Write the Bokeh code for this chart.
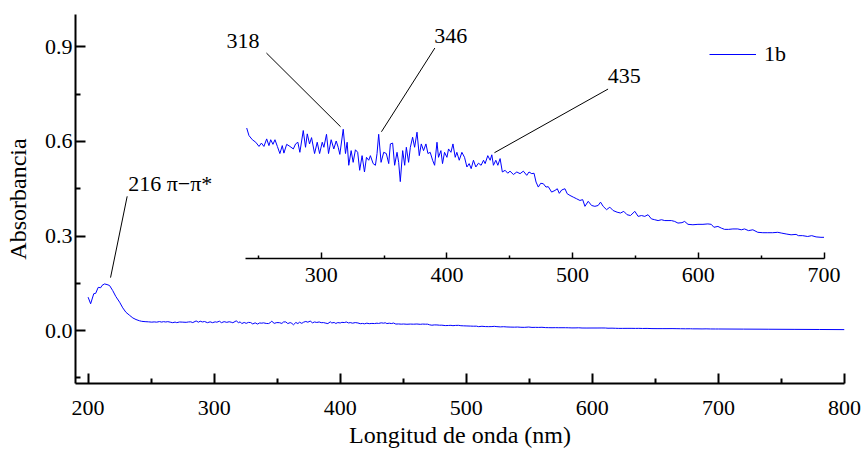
from bokeh.plotting import figure
from bokeh.models import (Range1d, LinearAxis, FixedTicker, PrintfTickFormatter,
                          Label, Legend, LegendItem)
from bokeh.embed import file_html
from bokeh.resources import INLINE

FONT = "Times New Roman"

# ---- data ----
wavelength_nm = [
    200, 202, 204.5, 206, 208, 210, 211, 213, 215, 217, 219.5, 222, 225, 227.5, 230, 233, 235.5, 238,
    240.7, 242.5, 245.2, 247.9, 250.5, 252.4, 254.4, 256.6, 258.4, 259.8, 261.6, 263.2, 265.1, 267.1,
    269.0, 270.3, 272.5, 275.1, 277.8, 279.6, 281.4, 283.0, 285.7, 287.5, 288.9, 290.7, 292.3, 294.7,
    296.8, 298.7, 300.8, 302.1, 304.2, 305.8, 307.9, 310.0, 311.9, 313.5, 314.8, 317.5, 319.3, 320.6,
    321.9, 323.8, 325.4, 327.2, 329.0, 330.6, 332.5, 334.4, 336.0, 337.8, 339.1, 341.3, 343.1, 344.4,
    345.7, 347.6, 349.7, 351.8, 353.7, 355.0, 356.8, 358.4, 360.3, 361.6, 362.9, 364.8, 366.4, 367.7,
    369.5, 370.9, 372.7, 374.3, 376.2, 378.0, 379.6, 381.4, 383.3, 384.9, 386.7, 388.6, 390.2, 392.1,
    393.3, 395.2, 396.5, 398.1, 400.0, 401.3, 403.2, 404.8, 406.6, 407.9, 409.8, 411.9, 414.0, 415.9,
    417.7, 419.3, 421.1, 423.0, 425.1, 427.2, 429.1, 430.4, 432.5, 434.4, 435.7, 437.0, 438.9, 440.5,
    442.3, 444.1, 446.3, 448.4, 450.2, 452.9, 455.6, 458.2, 460.8, 463.5, 465.3, 467.5, 469.3, 470.9,
    472.7, 474.6, 476.7, 478.8, 480.6, 483.3, 486.0, 487.8, 489.4, 491.3, 493.9, 495.7, 497.9, 500.5,
    503.2, 505.8, 508.0, 509.8, 512.4, 515.1, 517.7, 520.3, 522.2, 524.3, 527.0, 529.6, 532.2, 535.4,
    538.1, 540.7, 543.3, 546.0, 549.5, 552.1, 554.8, 557.4, 560.0, 562.7, 565.3, 568.0, 570.7, 573.3,
    575.9, 578.6, 581.2, 583.8, 587.0, 589.1, 591.8, 595.7, 599.7, 603.7, 607.6, 610.3, 612.4, 615.6,
    618.3, 620.9, 624.1, 627.5, 631.4, 634.2, 636.8, 639.9, 643.4, 647.3, 651.3, 655.3, 659.2, 663.2,
    666.4, 669.9, 673.8, 677.8, 679.6, 683.0, 687.0, 690.2, 693.7, 697.6, 700.0,
    720, 740, 760, 780, 800,
]
absorbance = [
    0.106, 0.085, 0.117, 0.118, 0.137, 0.136, 0.143, 0.148, 0.146, 0.143, 0.127, 0.108, 0.090, 0.072,
    0.058, 0.048, 0.040, 0.035,
    0.0311, 0.0293, 0.0283, 0.0277, 0.0267, 0.0275, 0.0267, 0.0285, 0.0269, 0.0283, 0.0272, 0.0283,
    0.0267, 0.0250, 0.0269, 0.0251, 0.0272, 0.0267, 0.0261, 0.0273, 0.0277, 0.0253, 0.0305, 0.0265,
    0.0297, 0.0273, 0.0288, 0.0250, 0.0277, 0.0250, 0.0277, 0.0265, 0.0296, 0.0250, 0.0283, 0.0261,
    0.0280, 0.0265, 0.0248, 0.0308, 0.0250, 0.0277, 0.0222, 0.0257, 0.0229, 0.0259, 0.0253, 0.0210,
    0.0245, 0.0206, 0.0241, 0.0234, 0.0245, 0.0226, 0.0222, 0.0250, 0.0296, 0.0229, 0.0253, 0.0250,
    0.0226, 0.0273, 0.0275, 0.0222, 0.0253, 0.0229, 0.0183, 0.0257, 0.0222, 0.0265, 0.0229, 0.0265,
    0.0289, 0.0265, 0.0301, 0.0245, 0.0273, 0.0257, 0.0273, 0.0250, 0.0253, 0.0234, 0.0222, 0.0277,
    0.0241, 0.0257, 0.0226, 0.0253, 0.0241, 0.0261, 0.0253, 0.0273, 0.0241, 0.0253, 0.0234, 0.0253,
    0.0241, 0.0218, 0.0226, 0.0214, 0.0234, 0.0218, 0.0227, 0.0222, 0.0234, 0.0226, 0.0245, 0.0234,
    0.0247, 0.0222, 0.0234, 0.0222, 0.0238, 0.0206, 0.0210, 0.0203, 0.0208, 0.0200, 0.0206, 0.0202,
    0.0208, 0.0198, 0.0206, 0.0202, 0.0203, 0.0182, 0.0170, 0.0179, 0.0178, 0.0170, 0.0171, 0.0158,
    0.0162, 0.0166, 0.0155, 0.0163, 0.0166, 0.0154, 0.0150, 0.0146, 0.0142, 0.0138, 0.0140, 0.0124,
    0.0136, 0.0126, 0.0124, 0.0126, 0.0134, 0.0124, 0.0116, 0.0122, 0.0114, 0.0110, 0.0108, 0.0112,
    0.0104, 0.0102, 0.0112, 0.0100, 0.0102, 0.0100, 0.0104, 0.0094, 0.0092, 0.0090, 0.0092, 0.0090,
    0.0090, 0.0090, 0.0088, 0.0084, 0.0085, 0.0088, 0.0081, 0.0080, 0.0081, 0.0081, 0.0082, 0.0081,
    0.0074, 0.0076, 0.0072, 0.0069, 0.0069, 0.0070, 0.0070, 0.0068, 0.0070, 0.0066, 0.0068, 0.0062,
    0.0061, 0.0061, 0.0061, 0.0062, 0.0060, 0.0058, 0.0056, 0.0057, 0.0054, 0.0054, 0.0052, 0.0054,
    0.0051, 0.0050, 0.0050,
    0.0046, 0.0042, 0.0038, 0.0034, 0.0030,
]
series_name = "1b"

x_ticks = [200, 300, 400, 500, 600, 700, 800]
x_minor = [250, 350, 450, 550, 650, 750]
y_ticks = [0.0, 0.3, 0.6, 0.9]
y_minor = [-0.15, 0.15, 0.45, 0.75]
inset_span = (240, 700)
inset_ticks = [300, 400, 500, 600, 700]
inset_minor = [250, 350, 450, 550, 650]

# annotations: text, text anchor (x, y), leader line end near the peak, leader line start near text
inset_notes = ["318", "346", "435"]
inset_note_xy = [(250.8, 0.0518), (403.0, 0.0530), (541.0, 0.0434)]
inset_note_align = ["right", "center", "center"]
inset_lead_from = [(315.4, 0.0314), (347.9, 0.0302), (437.8, 0.0252)]
inset_lead_to = [(256.4, 0.0490), (390.4, 0.0502), (528.2, 0.0404)]
main_note = "216 \u03c0\u2212\u03c0*"
main_note_xy = (231.8, 0.467)
main_lead_from = (217.8, 0.168)
main_lead_to = (231.0, 0.426)

BLUE = "#0000ff"

p = figure(frame_width=769, frame_height=369,
           x_range=Range1d(190, 800), y_range=Range1d(-0.168, 1.003),
           output_backend="svg", toolbar_location=None,
           min_border_left=75, min_border_right=18, min_border_top=14, min_border_bottom=69)
p.outline_line_color = None
p.xgrid.visible = False
p.ygrid.visible = False
p.background_fill_color = "white"
p.border_fill_color = "white"

p.extra_x_ranges = {"inset": Range1d(104.5, 716.3)}
p.extra_y_ranges = {"inset_y": Range1d(-0.0299, 0.0582)}


def style_axis(ax, tick_in, minor_in, lw, font_px):
    ax.axis_line_width = lw
    ax.axis_line_color = "black"
    ax.major_tick_in = tick_in
    ax.major_tick_out = 0
    ax.minor_tick_in = minor_in
    ax.minor_tick_out = 0
    ax.major_tick_line_width = lw
    ax.minor_tick_line_width = lw
    ax.major_label_text_font = FONT
    ax.major_label_text_font_size = font_px
    ax.major_label_text_color = "black"
    ax.axis_label_text_font = FONT
    ax.axis_label_text_font_style = "normal"
    ax.axis_label_text_font_size = "24px"
    ax.axis_label_text_color = "black"


xa = p.xaxis[0]
xa.ticker = FixedTicker(ticks=x_ticks, minor_ticks=x_minor)
xa.axis_label = "Longitud de onda (nm)"
style_axis(xa, 10, 5, 2, "22px")
xa.major_label_standoff = 17
xa.axis_label_standoff = 4

ya = p.yaxis[0]
ya.ticker = FixedTicker(ticks=y_ticks, minor_ticks=y_minor)
ya.formatter = PrintfTickFormatter(format="%.1f")
ya.axis_label = "Absorbancia"
style_axis(ya, 10, 5, 2, "22px")
ya.major_label_standoff = 3
ya.axis_label_standoff = 11

# main spectrum
main_line = p.line(wavelength_nm, absorbance, line_color=BLUE, line_width=1)

# inset: same spectrum, zoomed
in_x = [w for w in wavelength_nm if inset_span[0] <= w <= inset_span[1]]
in_y = [a for w, a in zip(wavelength_nm, absorbance) if inset_span[0] <= w <= inset_span[1]]
p.line(in_x, in_y, line_color=BLUE, line_width=1, x_range_name="inset", y_range_name="inset_y")

inset_axis = LinearAxis(x_range_name="inset", y_range_name="inset_y", fixed_location=0,
                        bounds=inset_span,
                        ticker=FixedTicker(ticks=inset_ticks, minor_ticks=inset_minor))
style_axis(inset_axis, 6, 3, 1.5, "22px")
inset_axis.major_label_standoff = 10
p.add_layout(inset_axis, "below")

# leader lines and labels
p.segment(x0=[a[0] for a in inset_lead_from], y0=[a[1] for a in inset_lead_from],
          x1=[a[0] for a in inset_lead_to], y1=[a[1] for a in inset_lead_to],
          line_color="black", line_width=1, x_range_name="inset", y_range_name="inset_y")
for txt, (tx, ty), al in zip(inset_notes, inset_note_xy, inset_note_align):
    p.add_layout(Label(x=tx, y=ty, text=txt, text_align=al, text_baseline="middle",
                       text_font=FONT, text_font_size="22px", text_color="black",
                       x_range_name="inset", y_range_name="inset_y"))

p.segment(x0=[main_lead_from[0]], y0=[main_lead_from[1]], x1=[main_lead_to[0]], y1=[main_lead_to[1]],
          line_color="black", line_width=1)
p.add_layout(Label(x=main_note_xy[0], y=main_note_xy[1], text=main_note, text_align="left",
                   text_baseline="middle", text_font=FONT, text_font_size="22px", text_color="black"))

legend = Legend(items=[LegendItem(label=series_name, renderers=[main_line])],
                location=(634, 316), border_line_color=None, background_fill_alpha=0,
                padding=0, margin=0, glyph_width=47, glyph_height=20, label_height=20,
                label_standoff=8, label_text_font=FONT, label_text_font_size="22px",
                label_text_color="black", spacing=0)
p.add_layout(legend)

open("out.html", "w").write(file_html(p, INLINE))
